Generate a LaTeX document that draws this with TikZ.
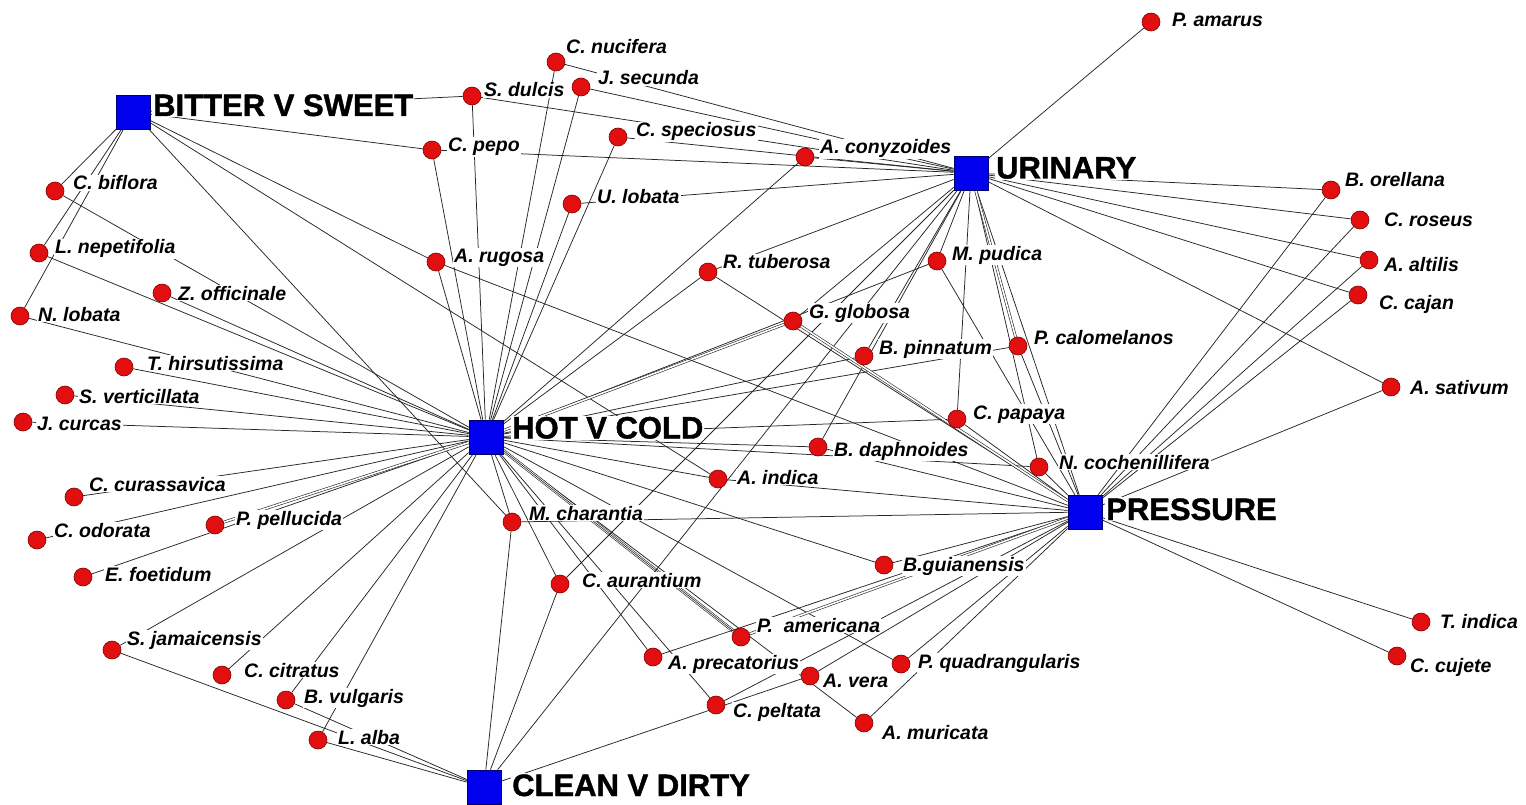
\documentclass[tikz,border=0pt]{standalone}
\usepackage{fontspec}
\setmainfont{Liberation Sans}
\newfontfamily\catfont[BoldFeatures={FakeBold=1.3}]{Liberation Sans}
\pgfdeclarelayer{bg}
\pgfdeclarelayer{edges}
\pgfsetlayers{bg,edges,main}
\definecolor{dotred}{RGB}{225,15,15}
\definecolor{dotrim}{RGB}{130,0,0}
\definecolor{sqblue}{RGB}{0,0,238}
\definecolor{sqrim}{RGB}{0,0,110}
\tikzset{
  dot/.style={circle, minimum size=18pt, inner sep=0pt, fill=dotred, draw=dotrim, line width=0.6pt},
  cat/.style={rectangle, minimum size=34pt, inner sep=0pt, fill=sqblue, draw=sqrim, line width=0.6pt},
  plab/.style={anchor=base west, inner sep=1pt, fill=white, font=\fontsize{19.5}{22}\selectfont\bfseries\itshape},
  clab/.style={anchor=base west, inner sep=1pt, fill=white, font=\fontsize{31}{35}\selectfont\catfont\bfseries},
  edge/.style={line width=0.75pt, black!85},
  twin/.style={line width=0.6pt, black!85, double=white, double distance=1.6pt}
}
% plant: name, dot x, dot y, label x, label y (centre of capitals), text
\newcommand\mkplant[6]{%
  \node[dot] (#1) at (#2,#3) {};
  \node[plab, yshift=-7pt] (#1-t) at (#4,#5) {#6};
}
% category: name, square x, y, label x, label y, text
\newcommand\mkcat[6]{%
  \node[cat] (#1) at (#2,#3) {};
  \node[clab, yshift=-11pt] (#1-t) at (#4,#5) {#6};
}
\begin{document}
\begin{tikzpicture}[x=1pt, y=-1pt]
\useasboundingbox (0,0) rectangle (1526,805);
\begin{pgfonlayer}{bg}
  \fill[white] (0,0) rectangle (1526,805);
\end{pgfonlayer}

% categories
\mkcat{bs}{133}{112}{152}{105}{BITTER V SWEET}
\mkcat{ur}{971}{173}{995}{167.5}{URINARY}
\mkcat{hc}{486}{437}{511}{427.5}{HOT V COLD}
\mkcat{pr}{1085}{512}{1105}{509}{PRESSURE}
\mkcat{cd}{484}{787}{511}{785}{CLEAN V DIRTY}

% plants
\mkplant{pam}{1151}{22}{1171}{20}{P. amarus}
\mkplant{cnu}{556}{62}{565}{47}{C. nucifera}
\mkplant{jse}{581}{87}{597}{78}{J. secunda}
\mkplant{sdu}{472}{96}{483}{90}{S. dulcis}
\mkplant{csp}{618}{137}{635}{130}{C. speciosus}
\mkplant{cpe}{432}{150}{447}{145}{C. pepo}
\mkplant{aco}{805}{157}{819}{147}{A. conyzoides}
\mkplant{cbi}{55}{191}{72}{183}{C. biflora}
\mkplant{bor}{1331}{190}{1344}{180}{B. orellana}
\mkplant{ulo}{572}{204}{596}{197}{U. lobata}
\mkplant{cro}{1360}{220}{1383}{219}{C. roseus}
\mkplant{lne}{39}{253}{54}{247}{L. nepetifolia}
\mkplant{aru}{436}{262}{453}{255}{A. rugosa}
\mkplant{mpu}{937}{261}{951}{253}{M. pudica}
\mkplant{rtu}{708}{272}{722}{262}{R. tuberosa}
\mkplant{aal}{1369}{260}{1383}{264}{A. altilis}
\mkplant{zof}{162}{293}{177}{293}{Z. officinale}
\mkplant{cca}{1358}{295}{1378}{302}{C. cajan}
\mkplant{nlo}{20}{316}{37}{314}{N. lobata}
\mkplant{ggl}{793}{321}{808}{311}{G. globosa}
\mkplant{pca}{1018}{346}{1033}{337}{P. calomelanos}
\mkplant{bpi}{864}{356}{878}{347}{B. pinnatum}
\mkplant{thi}{124}{367}{146}{363}{T. hirsutissima}
\mkplant{sve}{65}{395}{78}{396}{S. verticillata}
\mkplant{asa}{1391}{387}{1409}{387}{A. sativum}
\mkplant{jcu}{23}{422}{36}{423}{J. curcas}
\mkplant{cpa}{957}{419}{972}{412}{C. papaya}
\mkplant{bda}{818}{447}{833}{449}{B. daphnoides}
\mkplant{nco}{1039}{467}{1058}{462}{N. cochenillifera}
\mkplant{ain}{718}{479}{736}{477}{A. indica}
\mkplant{ccu}{74}{497}{88}{484}{C. curassavica}
\mkplant{ppe}{215}{525}{235}{518}{P. pellucida}
\mkplant{mch}{512}{522}{528}{513}{M. charantia}
\mkplant{cod}{37}{540}{53}{530}{C. odorata}
\mkplant{efo}{83}{577}{104}{574}{E. foetidum}
\mkplant{bgu}{884}{565}{902}{564}{B.guianensis}
\mkplant{cau}{560}{584}{581}{580}{C. aurantium}
\mkplant{tin}{1421}{622}{1439}{621}{T. indica}
\mkplant{sja}{112}{650}{126}{638}{S. jamaicensis}
\mkplant{pame}{741}{637}{756}{625}{P.\hspace{0.55em}americana}
\mkplant{apr}{653}{657}{667}{662}{A. precatorius}
\mkplant{pqu}{901}{664}{917}{661}{P. quadrangularis}
\mkplant{ccj}{1397}{656}{1409}{665}{C. cujete}
\mkplant{cci}{222}{675}{243}{670}{C. citratus}
\mkplant{ave}{810}{676}{822}{680}{A. vera}
\mkplant{bvu}{286}{700}{303}{696}{B. vulgaris}
\mkplant{cpl}{716}{705}{732}{710}{C. peltata}
\mkplant{amu}{864}{723}{881}{732}{A. muricata}
\mkplant{lal}{318}{740}{337}{737}{L. alba}

\begin{pgfonlayer}{edges}
  % BITTER V SWEET
  \foreach \p in {sdu,cpe,aru,ain,mch,cbi,lne,nlo}
    \draw[edge] (bs) -- (\p);
  % HOT V COLD
  \foreach \p in {cnu,jse,sdu,csp,cpe,aco,ulo,aru,rtu,mpu,bpi,pca,cpa,bda,nco,ain,
                  mch,cau,apr,cpl,pqu,bgu,amu,cbi,lne,zof,nlo,thi,sve,jcu,ccu,cod,
                  efo,sja,cci,bvu,lal}
    \draw[edge] (hc) -- (\p);
  \draw[twin] (hc) -- (ggl);
  \draw[twin] (hc) -- (ppe);
  \draw[twin, double distance=2.2pt] (hc) -- (pame);
  \draw[edge, line width=0.6pt] (hc) -- (pame);
  % URINARY
  \foreach \p in {pam,cnu,jse,sdu,csp,cpe,ulo,aco,bor,cro,aal,cca,asa,rtu,ggl,mpu,
                  bpi,bda,cpa,nco,cau,cd,pr}
    \draw[edge] (ur) -- (\p);
  \draw[twin] (ur) -- (pca);
  % PRESSURE
  \foreach \p in {bor,cro,aal,cca,asa,tin,ccj,aru,rtu,mpu,pca,cpa,bda,nco,ain,mch,
                  bgu,apr,pqu,ave,cpl,amu}
    \draw[edge] (pr) -- (\p);
  \draw[twin] (pr) -- (ggl);
  \draw[twin] (pr) -- (pame);
  % CLEAN V DIRTY
  \foreach \p in {mch,cau,ave,lal,bvu,sja}
    \draw[edge] (cd) -- (\p);
\end{pgfonlayer}
\end{tikzpicture}
\end{document}
